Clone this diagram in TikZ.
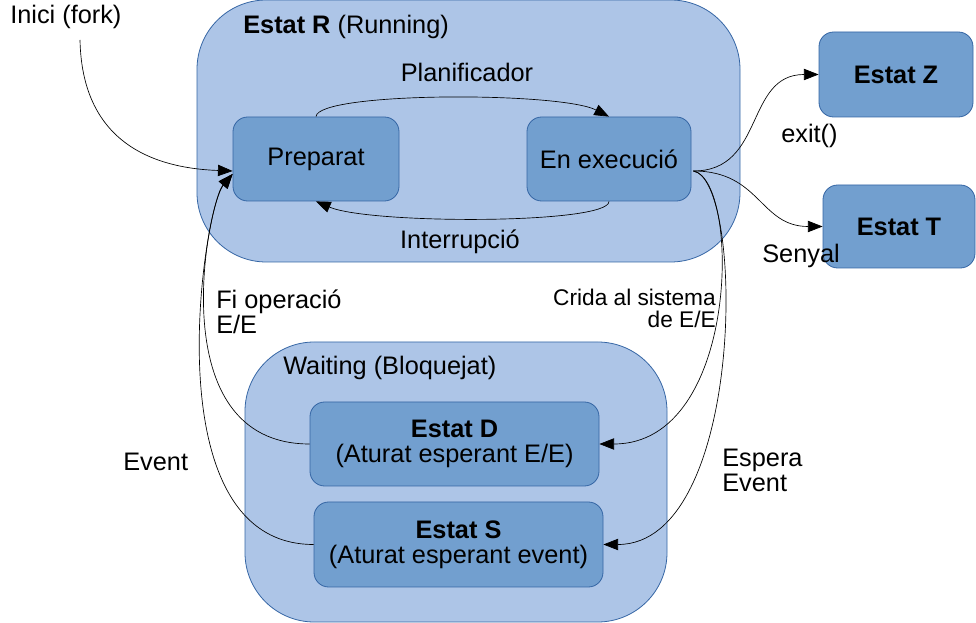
\documentclass[tikz,border=0pt]{standalone}
\usepackage{fontspec}
\setmainfont{Liberation Sans}
\usepackage{tikz}
\usetikzlibrary{arrows.meta,calc,positioning}

\definecolor{boxline}{HTML}{3465A4}
\definecolor{outerfill}{HTML}{ADC5E7}
\definecolor{innerfill}{HTML}{729FCF}

\tikzset{
	size/.style 2 args={minimum width=#1*0.75pt, minimum height=#2*0.75pt},
	group/.style={draw=boxline, fill=outerfill, line width=0.6pt, rounded corners=52pt, inner sep=0pt},
	state/.style={draw=boxline, fill=innerfill, line width=0.6pt, rounded corners=11pt, inner sep=0pt, align=center},
	lbl/.style={inner sep=0pt},
	trans/.style={line width=0.5pt, -{Triangle[length=11pt,width=8.5pt]}}
}

\begin{document}
\begin{tikzpicture}[x=0.75pt,y=-0.75pt,font=\fontsize{19}{18.75}\selectfont]
		\useasboundingbox (0,0) rectangle (976,623);
		% grups
		\node[group, size={543}{262}] (R) at (468.5,131) {};
		\node[group, size={422}{280}] (W) at (456,482) {};
		% estats
		\node[state, size={166}{84}] (prep) at (316,159) {Preparat};
		\node[state, size={164}{84}] (exec) at (609,159) {En execució};
		\node[state, size={154}{85}] (Z) at (896,74.5) {\textbf{Estat Z}};
		\node[state, size={152}{83}] (T) at (899,226.5) {\textbf{Estat T}};
		\node[state, size={289}{84}] (D) at (454.5,444) {\textbf{Estat D}\\(Aturat esperant E/E)};
		\node[state, size={289}{85}] (S) at (458.5,544.5) {\textbf{Estat S}\\(Aturat esperant event)};
		% textos
		\node[lbl, anchor=west] (inici) at (10,17) {Inici (fork)};
		\node[lbl, anchor=west] (Rname) at (243,27) {\textbf{Estat R} (Running)};
		\node[lbl] (planif) at (467,72) {Planificador};
		\node[lbl] (interr) at (460,242) {Interrupció};
		\node[lbl, anchor=west] (exitlbl) at (781,136) {exit()};
		\node[lbl, anchor=west] (senyal) at (762,256) {Senyal};
		\node[lbl, anchor=west, align=left] (fiop) at (216,312) {Fi operació\\E/E};
		\node[lbl, anchor=east, align=right, font=\fontsize{17}{16.5}\selectfont] (crida) at (716,308) {Crida al sistema\\de E/E};
		\node[lbl, anchor=west] (Wname) at (283,368) {Waiting (Bloquejat)};
		\node[lbl, anchor=west] (event) at (123,462) {Event};
		\node[lbl, anchor=west, align=left] (espera) at (722,470) {Espera\\Event};
		% punts
		\coordinate (iniciout) at (80,40);
		\coordinate (prepin) at ($(prep.west)+(0,12)$);
		\coordinate (prepup) at ($(prep.west)+(0,15)$);
		\coordinate (execout) at ($(exec.east)+(2,12)$);
		% transicions
		\draw[trans] (iniciout) .. controls +(2,100) and +(-83,-3) .. (prepin);
		\draw[trans] (prep.north) .. controls +(2,-25) and +(-49,-25) .. (exec.north);
		\draw[trans] (exec.south) .. controls +(0,23) and +(54,23) .. (prep.south);
		\draw[trans] (execout) .. controls +(72,0) and +(-74,0) .. (Z.west);
		\draw[trans] (execout) .. controls +(67,0) and +(-63,0) .. (T.west);
		\draw[trans] (execout) .. controls +(47,9) and +(141,0) .. (D.east);
		\draw[trans] (execout) .. controls +(52,9) and +(142,0) .. (S.east);
		\draw[trans] (D.west) .. controls +(-150,0) and +(-25,30) .. (prepup);
		\draw[trans] (S.west) .. controls +(-164,0) and +(-28,32) .. (prepup);
\end{tikzpicture}
\end{document}
